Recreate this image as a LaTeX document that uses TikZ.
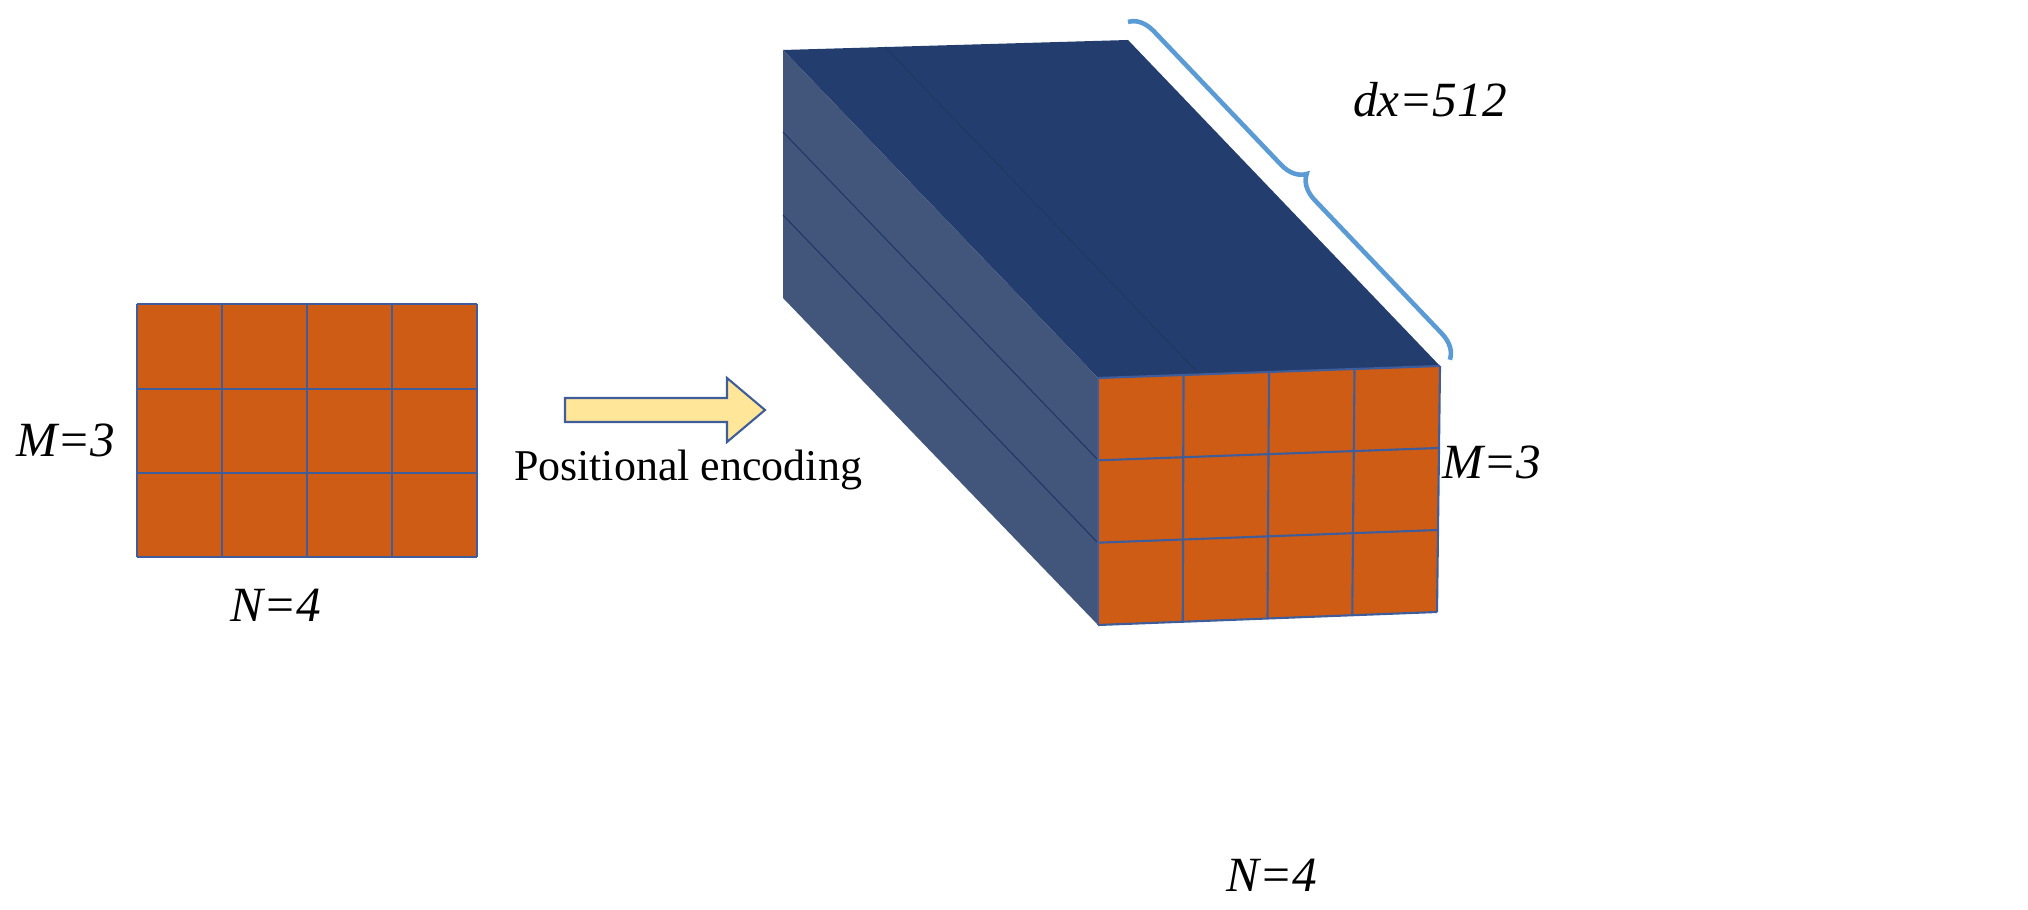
\documentclass[tikz,border=0pt]{standalone}
\usepackage{fontspec}
\setmainfont{Liberation Serif}
\usetikzlibrary{decorations.pathreplacing,calc}
\begin{document}
\begin{tikzpicture}[x=0.01cm,y=-0.01cm,
 lab/.style={font=\itshape\fontsize{14}{14}\selectfont},
 cell/.style={draw=gridblue,line width=0.6pt},
 ]
\definecolor{orng}{HTML}{CF5C14}
\definecolor{gridblue}{HTML}{3E5D9A}
\definecolor{topc}{HTML}{233E6E}
\definecolor{leftc}{HTML}{42557A}
\definecolor{brc}{HTML}{5B9BD5}
\definecolor{arrf}{HTML}{FFE699}
\useasboundingbox (0,0) rectangle (2028,910);
% left grid
\fill[orng] (137,304) rectangle (477,557);
\foreach \x in {137,222,307,392,477} \draw[cell] (\x,304) -- (\x,557);
\foreach \y in {304,389,473,557} \draw[cell] (137,\y) -- (477,\y);
\node[lab] (m1) at (66,440) {M=3};
\node[lab] (n1) at (276,605) {N=4};
% arrow
\draw[draw=gridblue, fill=arrf, line width=0.6pt] (565,398) -- (727,398) -- (727,378) -- (765,410) -- (727,442) -- (727,422) -- (565,422) -- cycle;
\node[font=\fontsize{12.5}{12.5}\selectfont] (pe) at (688,470) {Positional encoding};
% box
\coordinate (A) at (783,50); \coordinate (B) at (1128,40);
\coordinate (C) at (1440,366); \coordinate (D) at (1098,378);
\coordinate (E) at (1098,625); \coordinate (F) at (783,298);
\coordinate (G) at (1437,612);
\fill[topc] (A) -- (B) -- (C) -- (D) -- cycle;
\fill[leftc] (A) -- (D) -- (E) -- (F) -- cycle;
\draw[topc!90!black,line width=0.3pt] (783,132) -- (1098,460) (783,215) -- (1098,543);
\draw[topc!90!black,line width=0.3pt] (885,47) -- (1200,375);
\fill[orng] (D) -- (C) -- (G) -- (E) -- cycle;
\foreach \t in {0,0.25,0.5,0.75,1}
  \draw[cell] ($(D)!\t!(C)$) -- ($(E)!\t!(G)$);
\foreach \t in {0,0.3333,0.6667,1}
  \draw[cell] ($(D)!\t!(E)$) -- ($(C)!\t!(G)$);
\draw[brc,line width=1.3pt,decorate,decoration={brace,amplitude=7pt}] (1128,22) -- (1450,360);
\node[lab] (dx) at (1430,100) {dx=512};
\node[lab] (m2) at (1492,462) {M=3};
\node[lab] (n2) at (1272,875) {N=4};
\end{tikzpicture}
\end{document}
